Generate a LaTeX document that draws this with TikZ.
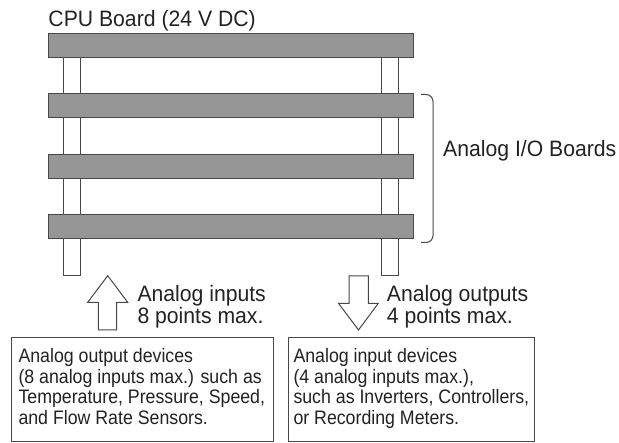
\documentclass[tikz,border=0pt]{standalone}
\usepackage{fontspec}
\newfontfamily\labfont{Liberation Sans}[FakeStretch=0.95]
\newfontfamily\smallfont{Liberation Sans}[FakeStretch=0.91]
\definecolor{boardfill}{HTML}{969696}
\definecolor{edge}{HTML}{484848}
\definecolor{ink}{HTML}{222222}
\begin{document}
\begin{tikzpicture}[x=1pt,y=-1pt,
  board/.style={draw=edge,line width=1pt,fill=boardfill},
  post/.style={draw=edge,line width=1pt,fill=white},
  blockarrow/.style={draw=edge,line width=1pt,fill=white,line join=miter},
  devbox/.style={draw=edge,line width=1pt,fill=white},
  bigtxt/.style={font=\labfont\fontsize{22.3}{24}\selectfont,text=ink,inner sep=0pt,anchor=base west},
  smalltxt/.style={font=\smallfont\fontsize{19.5}{20.5}\selectfont,text=ink,inner sep=0pt,anchor=base west}]
\useasboundingbox (0,0) rectangle (619,443);
% posts
\draw[post] (63.5,57) rectangle (80.5,276);
\draw[post] (381,57) rectangle (398,276);
% boards
\foreach \yy/\nm in {34/b0,94/b1,155/b2,215/b3}{
  \draw[board] (48,\yy) rectangle (413,\yy+23.5);
}
\node[bigtxt] (title) at (48.3,26.7) {CPU Board (24 V DC)};
% brace
\draw[edge,line width=1pt,rounded corners=7pt] (421,94.5) -- (433,94.5) -- (433,242.5) -- (421,242.5);
\node[bigtxt] (iolab) at (443,156.5) {Analog I/O Boards};
% up arrow
\draw[blockarrow] (98.3,330) -- (98.3,302.3) -- (87.7,302.3) -- (107.7,275.7) -- (127.7,302.3) -- (116.7,302.3) -- (116.7,330) -- cycle;
\node[bigtxt] (in1) at (137.3,301.7) {Analog inputs};
\node[bigtxt] (in2) at (137.3,324) {8 points max.};
% down arrow
\draw[blockarrow] (349,276) -- (368.3,276) -- (368.3,303.3) -- (378.3,303.3) -- (358.5,330) -- (338.5,303.3) -- (349,303.3) -- cycle;
\node[bigtxt] (out1) at (386.7,301.7) {Analog outputs};
\node[bigtxt] (out2) at (386.7,324) {4 points max.};
% device boxes
\draw[devbox] (11,337.8) rectangle (273.5,441.7);
\draw[devbox] (288.3,337.8) rectangle (534.3,441.7);
\node[smalltxt] (l1) at (18.3,362.7) {Analog output devices};
\node[smalltxt] (l2) at (18.3,383.3) {(8 analog inputs max.) such as};
\node[smalltxt] (l3) at (18.3,404) {Temperature, Pressure, Speed,};
\node[smalltxt] (l4) at (18.3,424.5) {and Flow Rate Sensors.};
\node[smalltxt] (r1) at (293.3,362.7) {Analog input devices};
\node[smalltxt] (r2) at (293.3,383.3) {(4 analog inputs max.),};
\node[smalltxt] (r3) at (293.3,404) {such as Inverters, Controllers,};
\node[smalltxt] (r4) at (293.3,424.5) {or Recording Meters.};
\end{tikzpicture}
\end{document}
